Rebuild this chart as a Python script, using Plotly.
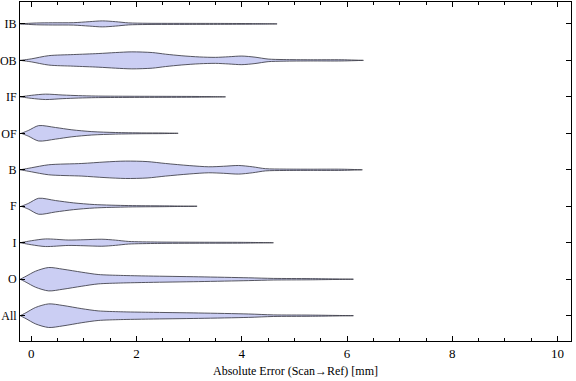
import plotly.graph_objects as go

# Categories bottom -> top
categories = ["All", "O", "I", "F", "B", "OF", "IF", "OB", "IB"]

# Density profiles: error value (mm) and relative density
IB_x = [-0.21, -0.1, 0.1, 0.4, 0.8, 1.1, 1.35, 1.6, 1.85, 2.2, 3.0, 3.6, 4.2, 4.67]
IB_d = [0, 0.4, 0.9, 1.1, 1.2, 2.2, 3.0, 2.2, 1.0, 0.6, 0.5, 0.45, 0.3, 0]

OB_x = [-0.21, 0, 0.33, 0.8, 1.27, 1.6, 1.91, 2.3, 2.55, 2.86, 3.2, 3.5, 3.75, 4.0, 4.25, 4.5, 4.8, 5.3, 5.9, 6.31]
OB_d = [0, 1.5, 4.7, 5.8, 6.8, 7.8, 8.5, 7.8, 6.2, 4.6, 3.4, 3.0, 3.6, 4.3, 3.2, 1.3, 0.8, 0.6, 0.6, 0]

IF_x = [-0.21, 0, 0.27, 0.6, 0.9, 1.22, 1.8, 2.5, 3.2, 3.69]
IF_d = [0, 1.5, 2.7, 1.8, 1.2, 0.8, 0.6, 0.5, 0.35, 0]

OF_x = [-0.19, -0.05, 0.14, 0.46, 0.77, 1.15, 1.6, 2.1, 2.5, 2.79]
OF_d = [0, 3.0, 7.7, 5.8, 3.5, 1.7, 0.8, 0.4, 0.3, 0]

B_x = [-0.21, 0, 0.33, 0.96, 1.4, 1.79, 2.2, 2.55, 3.0, 3.37, 3.65, 3.94, 4.2, 4.45, 4.8, 5.3, 5.9, 6.29]
B_d = [0, 2.0, 5.0, 6.3, 7.8, 8.7, 8.2, 6.3, 4.2, 3.0, 3.5, 4.3, 3.0, 1.1, 0.7, 0.6, 0.6, 0]

F_x = [-0.19, -0.05, 0.14, 0.46, 0.8, 1.2, 1.85, 2.5, 3.15]
F_d = [0, 3.0, 8.0, 5.7, 3.4, 1.7, 0.7, 0.4, 0]

I_x = [-0.21, 0, 0.27, 0.7, 1.0, 1.34, 1.6, 1.85, 2.4, 3.2, 4.0, 4.6]
I_d = [0, 2.0, 3.8, 2.7, 3.0, 3.5, 2.6, 1.3, 0.7, 0.5, 0.4, 0]

O_x = [-0.21, -0.1, 0.08, 0.33, 0.6, 0.96, 1.27, 1.7, 2.23, 3.18, 4.13, 4.6, 5.3, 6.12]
O_d = [0, 3.0, 8.0, 11.7, 10.0, 7.0, 4.7, 3.8, 3.2, 2.4, 1.4, 0.8, 0.6, 0]

All_x = [-0.21, -0.1, 0.08, 0.33, 0.6, 0.96, 1.27, 1.7, 2.23, 3.18, 4.13, 4.6, 5.3, 6.12]
All_d = [0, 3.0, 8.2, 11.8, 10.2, 7.0, 4.8, 3.9, 3.4, 2.7, 1.7, 0.8, 0.6, 0]

profiles = {
    "All": (All_x, All_d), "O": (O_x, O_d), "I": (I_x, I_d), "F": (F_x, F_d),
    "B": (B_x, B_d), "OF": (OF_x, OF_d), "IF": (IF_x, IF_d), "OB": (OB_x, OB_d),
    "IB": (IB_x, IB_d),
}

x_ticks = [0, 2, 4, 6, 8, 10]

SCALE = 1 / 36.46  # relative density -> category units
FILL = "#CBCEF3"
EDGE = "rgba(60,60,70,0.85)"
FONT = "Liberation Serif"

fig = go.Figure()
for i, cat in enumerate(categories):
    pos = i + 1
    xs, ds = profiles[cat]
    px = list(xs) + list(reversed(xs)) + [xs[0]]
    py = [pos + d * SCALE for d in ds] + [pos - d * SCALE for d in reversed(ds)] + [pos]
    fig.add_trace(go.Scatter(
        x=px, y=py, mode="lines", fill="toself", fillcolor=FILL,
        line=dict(color=EDGE, width=1, shape="spline", smoothing=0.8),
        hoverinfo="skip", showlegend=False,
    ))

fig.update_layout(
    width=576, height=381,
    margin=dict(l=20, r=5, t=2, b=40),
    plot_bgcolor="white", paper_bgcolor="white",
    font=dict(family=FONT, size=12, color="black"),
    xaxis=dict(
        range=[-0.215, 10.255], tickvals=x_ticks, ticktext=[str(v) for v in x_ticks],
        showgrid=False, zeroline=False, showline=True, linecolor="black", linewidth=1,
        mirror="ticks", ticks="inside", ticklen=5, tickcolor="black",
        minor=dict(dtick=0.5, tick0=0, ticks="inside", ticklen=3, tickcolor="black", showgrid=False),
        title=dict(text="Absolute Error (Scan→Ref) [mm]", standoff=7, font=dict(family=FONT, size=12)),
        tickfont=dict(family=FONT, size=13), automargin=False,
    ),
    yaxis=dict(
        range=[0.306, 9.60], tickvals=list(range(1, len(categories) + 1)), ticktext=categories,
        showgrid=False, zeroline=False, showline=True, linecolor="black", linewidth=1,
        mirror="ticks", ticks="inside", ticklen=5, tickcolor="black",
        tickfont=dict(family=FONT, size=12), automargin=False,
    ),
)

fig.write_html(
    "out.html",
    config={"displayModeBar": False},
    post_script="document.body.style.margin='0px';document.body.style.overflow='hidden';",
)
